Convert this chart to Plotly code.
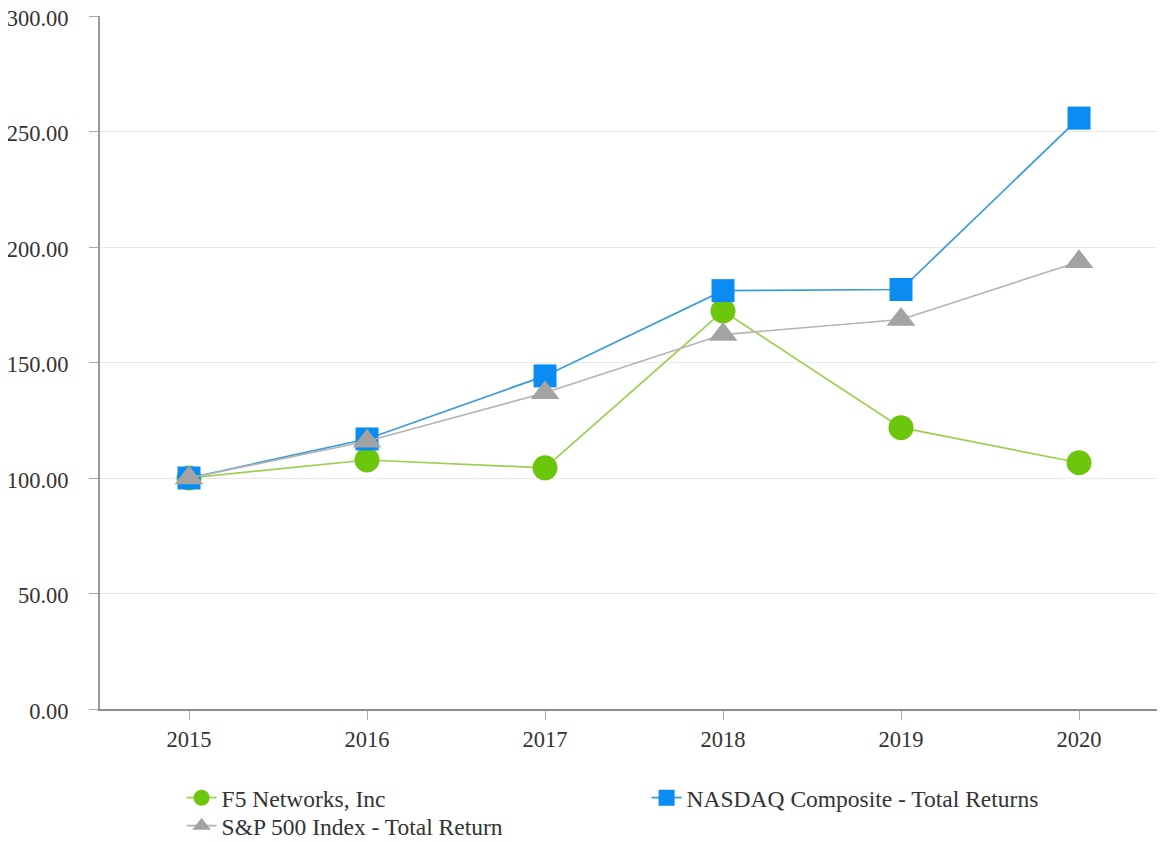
import plotly.graph_objects as go

years = ["2015", "2016", "2017", "2018", "2019", "2020"]
f5_values = [100.0, 107.8, 104.4, 172.3, 121.8, 106.6]
nasdaq_values = [100.0, 116.9, 144.2, 181.1, 181.6, 255.8]
sp500_values = [100.0, 115.9, 136.9, 162.1, 168.6, 193.6]
y_ticks = [0, 50, 100, 150, 200, 250, 300]
y_tick_labels = ["0.00", "50.00", "100.00", "150.00", "200.00", "250.00", "300.00"]

FONT = "Liberation Serif, Times New Roman, serif"
LEGEND_FONT = dict(family=FONT, size=23.5, color="#333333")

fig = go.Figure()
fig.add_trace(go.Scatter(
    x=years, y=f5_values, name="F5 Networks, Inc", mode="lines+markers",
    line=dict(color="#9CCF4F", width=1.7),
    marker=dict(symbol="circle", size=25, color="#6CC70C"),
    legend="legend",
))
fig.add_trace(go.Scatter(
    x=years, y=nasdaq_values, name="NASDAQ Composite - Total Returns", mode="lines+markers",
    line=dict(color="#3A9BDC", width=1.7),
    marker=dict(symbol="square", size=23, color="#0A8CF2"),
    legend="legend",
))
fig.add_trace(go.Scatter(
    x=years, y=sp500_values, name="S&P 500 Index - Total Return", mode="lines+markers",
    line=dict(color="#B4B4B4", width=1.7),
    marker=dict(symbol="triangle-up", size=25, color="#A3A3A3"),
    legend="legend2",
))

fig.update_layout(
    width=1157, height=900,
    margin=dict(l=92, r=0, t=8, b=199),
    paper_bgcolor="white", plot_bgcolor="white",
    font=dict(family=FONT, size=22, color="#333333"),
    showlegend=True,
    legend=dict(
        orientation="h", x=0.0766, xanchor="left", y=-0.0966, yanchor="top",
        entrywidth=420, entrywidthmode="pixels", bgcolor="rgba(0,0,0,0)",
        font=LEGEND_FONT, tracegroupgap=0,
    ),
    legend2=dict(
        orientation="h", x=0.0766, xanchor="left", y=-0.137, yanchor="top",
        bgcolor="rgba(0,0,0,0)",
        font=LEGEND_FONT, tracegroupgap=0,
    ),
)
fig.update_xaxes(
    type="category", range=[-0.5, 5.483], automargin=False,
    showline=True, linecolor="#8C8C8C", linewidth=2,
    showgrid=False, zeroline=False,
    ticks="outside", ticklen=9, tickwidth=1, tickcolor="#AAAAAA",
    tickfont=dict(family=FONT, size=22.5, color="#333333"),
    ticklabelstandoff=0,
)
fig.update_yaxes(
    range=[0, 300], tickvals=y_ticks, ticktext=y_tick_labels, automargin=False,
    showline=True, linecolor="#9A9A9A", linewidth=2,
    showgrid=True, gridcolor="#E8E8E8", gridwidth=1,
    zeroline=False, ticklabeloverflow="allow", ticklabelshift=2,
    ticks="outside", ticklen=9, tickwidth=1, tickcolor="#AAAAAA",
    tickfont=dict(family=FONT, size=22.5, color="#333333"),
    ticklabelstandoff=16,
)

fig.write_html("out.html")
